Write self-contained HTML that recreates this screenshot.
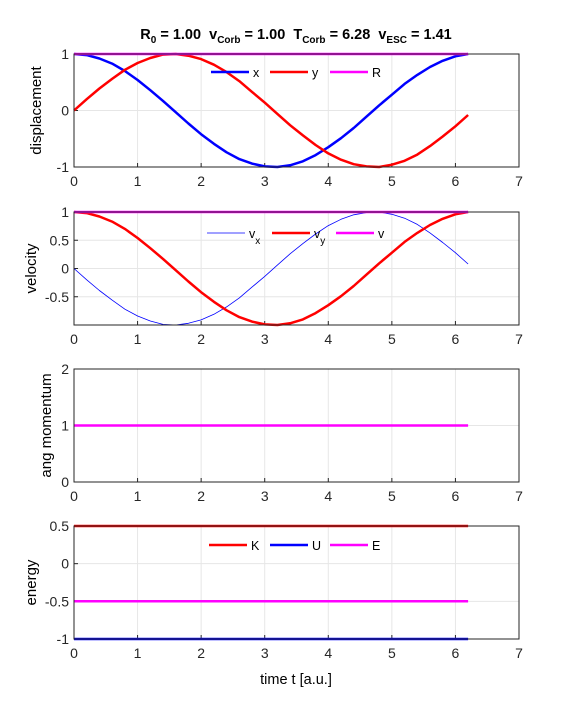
<!DOCTYPE html>
<html><head><meta charset="utf-8"><style>
body{margin:0;background:#fff;width:575px;height:719px;overflow:hidden}
svg{display:block;font-family:"Liberation Sans",Arial,sans-serif}
</style></head><body>
<svg id="chart" width="575" height="719" viewBox="0 0 575 719">
<text x="296" y="39" text-anchor="middle" font-size="14.5" font-weight="bold">R<tspan font-size="10" dy="4">0</tspan><tspan dy="-4"> = 1.00&#160; v</tspan><tspan font-size="10" dy="4">Corb</tspan><tspan dy="-4"> = 1.00&#160; T</tspan><tspan font-size="10" dy="4">Corb</tspan><tspan dy="-4"> = 6.28&#160; v</tspan><tspan font-size="10" dy="4">ESC</tspan><tspan dy="-4"> = 1.41</tspan></text>
<text x="296" y="684" text-anchor="middle" font-size="14.5">time t [a.u.]</text>
</svg>
<script>
const times=[0,0.2,0.4,0.6,0.8,1.0,1.2,1.4,1.6,1.8,2.0,2.2,2.4,2.6,2.8,3.0,3.2,3.4,3.6,3.8,4.0,4.2,4.4,4.6,4.8,5.0,5.2,5.4,5.6,5.8,6.0,6.2];
const xVals=[1,.98,.92,.83,.70,.54,.36,.17,-.03,-.23,-.42,-.59,-.74,-.86,-.94,-.99,-1.0,-.97,-.90,-.79,-.65,-.49,-.31,-.11,.09,.28,.47,.63,.77,.88,.96,1.0];
const yVals=[0,.20,.39,.56,.72,.84,.93,.99,1.0,.97,.91,.81,.68,.52,.33,.14,-.06,-.26,-.44,-.61,-.76,-.87,-.95,-.99,-1.0,-.96,-.89,-.78,-.63,-.46,-.28,-.08];
const rVals=times.map(()=>1);
const vxVals=[0,-.20,-.39,-.56,-.72,-.84,-.93,-.99,-1.0,-.97,-.91,-.81,-.68,-.52,-.33,-.14,.06,.26,.44,.61,.76,.87,.95,.99,1.0,.96,.89,.78,.63,.46,.28,.08];
const vyVals=[1,.98,.92,.83,.70,.54,.36,.17,-.03,-.23,-.42,-.59,-.74,-.86,-.94,-.99,-1.0,-.97,-.90,-.79,-.65,-.49,-.31,-.11,.09,.28,.47,.63,.77,.88,.96,1.0];
const vVals=times.map(()=>1);
const lVals=times.map(()=>1);
const kVals=times.map(()=>0.5);
const uVals=times.map(()=>-1);
const eVals=times.map(()=>-0.5);
const xTicks=[0,1,2,3,4,5,6,7];
const panels=[
 {name:'displacement',top:54,bot:167,min:-1,max:1,ticks:[-1,0,1],labels:['-1','0','1'],
  series:[{n:'x',d:xVals,c:'#0000ff',w:2.5},{n:'y',d:yVals,c:'#ff0000',w:2.5},{n:'R',d:rVals,c:'#ff00ff',w:2.5}],
  legend:{y:72,items:[[211,'x'],[270,'y'],[330,'R']]}},
 {name:'velocity',top:212,bot:325,min:-1,max:1,ticks:[-0.5,0,0.5,1],labels:['-0.5','0','0.5','1'],
  series:[{n:'vx',d:vxVals,c:'#0000ff',w:0.8},{n:'vy',d:vyVals,c:'#ff0000',w:2.5},{n:'v',d:vVals,c:'#ff00ff',w:2.5}],
  legend:{y:233,items:[[207,'vx'],[272,'vy'],[336,'v']]}},
 {name:'ang momentum',top:369,bot:482,min:0,max:2,ticks:[0,1,2],labels:['0','1','2'],
  series:[{n:'L',d:lVals,c:'#ff00ff',w:2.5}],legend:null},
 {name:'energy',top:526,bot:639,min:-1,max:0.5,ticks:[-1,-0.5,0,0.5],labels:['-1','-0.5','0','0.5'],
  series:[{n:'K',d:kVals,c:'#ff0000',w:2.5},{n:'U',d:uVals,c:'#0000ff',w:2.5},{n:'E',d:eVals,c:'#ff00ff',w:2.5}],
  legend:{y:545,items:[[209,'K'],[270,'U'],[330,'E']]}}
];
const svg=document.getElementById('chart');const NS='http://www.w3.org/2000/svg';
const L=74,R=519;
function sx(t){return L+(t-0)/7*(R-L);}
function mk(tag,a,p){const e=document.createElementNS(NS,tag);for(const k in a)e.setAttribute(k,a[k]);(p||svg).appendChild(e);return e;}
panels.forEach((p,i)=>{
 const g=mk('g',{});
 
 
 const sy=v=>p.bot-(v-p.min)/(p.max-p.min)*(p.bot-p.top);
 xTicks.forEach(t=>{const l=mk('line',{x1:sx(t),x2:sx(t),y1:p.top,y2:p.bot,stroke:'#e6e6e6'},g);
  
  const tx=mk('text',{x:sx(t),y:p.bot+19,'text-anchor':'middle','font-size':14,fill:'#262626'},g);tx.textContent=t;
  
  mk('line',{x1:sx(t),x2:sx(t),y1:p.bot,y2:p.bot-4,stroke:'#262626'},g);});
 p.ticks.forEach((v,j)=>{const l=mk('line',{x1:L,x2:R,y1:sy(v),y2:sy(v),stroke:'#e6e6e6'},g);
  
  const tx=mk('text',{x:L-5,y:sy(v)+5,'text-anchor':'end','font-size':14,fill:'#262626'},g);tx.textContent=p.labels[j];
  
  mk('line',{x1:L,x2:L+4,y1:sy(v),y2:sy(v),stroke:'#262626'},g);});
 const yt=mk('text',{x:0,y:0,'text-anchor':'middle','font-size':15,transform:`translate(${i==0?41:i==1?36:i==2?51:36},${(p.top+p.bot)/2}) rotate(-90)`},g);
 yt.textContent=p.name;
 p.series.forEach(s=>{const pts=times.map((t,k)=>sx(t).toFixed(1)+','+sy(s.d[k]).toFixed(1)).join(' ');
  const pl=mk('polyline',{points:pts,fill:'none',stroke:s.c,'stroke-width':s.w,'stroke-linejoin':'round'},g);
  });
 const box=mk('rect',{x:L,y:p.top,width:R-L,height:p.bot-p.top,fill:'none',stroke:'#262626','stroke-width':1},g);
 
 if(p.legend){const lg=mk('g',{},g);
  p.legend.items.forEach((it,k)=>{const s=p.series[k];
   mk('line',{x1:it[0],x2:it[0]+38,y1:p.legend.y,y2:p.legend.y,stroke:s.c,'stroke-width':s.w},lg);
   const tx=mk('text',{x:it[0]+42,y:p.legend.y+5,'font-size':12.5},lg);
   
   if(it[1].length==2){tx.textContent='v';const ts=mk('tspan',{'font-size':10,dy:6},tx);ts.textContent=it[1][1];}
   else tx.textContent=it[1];});}
});
</script>
</body></html>
